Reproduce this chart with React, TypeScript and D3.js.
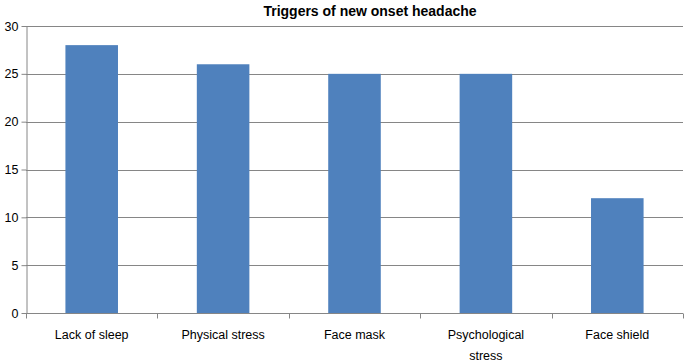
import React, { useEffect, useRef } from "react";
import * as d3 from "d3";

// Chart data
const categories = ["Lack of sleep", "Physical stress", "Face mask", "Psychological stress", "Face shield"];
const labelLines = [["Lack of sleep"], ["Physical stress"], ["Face mask"], ["Psychological", "stress"], ["Face shield"]];
const values = [28, 26, 25, 25, 12];
const yTicks = [0, 5, 10, 15, 20, 25, 30];
const title = "Triggers of new onset headache";

const width = 685;
const height = 363;
const marginTop = 26;
const marginRight = 2;
const marginBottom = 50;
const marginLeft = 26;
const font = "'Liberation Sans', Arial, sans-serif";

const App: React.FC = () => {
  const svgRef = useRef<SVGSVGElement>(null);

  useEffect(() => {
    if (!svgRef.current) return;
    const svg = d3.select(svgRef.current);
    svg.selectAll("*").remove();

    const x = d3
      .scaleBand()
      .domain(categories)
      .range([marginLeft, width - marginRight])
      .paddingInner(0.6)
      .paddingOuter(0.3);

    const y = d3
      .scaleLinear()
      .domain([0, 30])
      .range([height - marginBottom, marginTop]);

    // horizontal grid lines
    svg
      .append("g")
      .selectAll("line")
      .data(yTicks.filter((d) => d > 0))
      .join("line")
      .attr("x1", marginLeft)
      .attr("x2", width - marginRight)
      .attr("y1", (d) => Math.round(y(d)) + 0.5)
      .attr("y2", (d) => Math.round(y(d)) + 0.5)
      .attr("stroke", "#868686")
      .attr("stroke-width", 1);

    // bars
    svg
      .append("g")
      .selectAll("rect")
      .data(values)
      .join("rect")
      .attr("x", (d, i) => x(categories[i]) || 0)
      .attr("y", (d) => y(d))
      .attr("width", x.bandwidth())
      .attr("height", (d) => y(0) - y(d))
      .attr("fill", "#4F81BD");

    // y axis
    svg
      .append("g")
      .attr("transform", `translate(${marginLeft + 0.5},0)`)
      .call(d3.axisLeft(y).tickValues(yTicks).tickSize(5).tickPadding(3).tickSizeOuter(0))
      .call((g) => g.select(".domain").attr("stroke", "#868686"))
      .call((g) => g.selectAll(".tick line").attr("stroke", "#868686"))
      .call((g) =>
        g.selectAll(".tick text").attr("font-family", font).attr("font-size", 12.5).attr("fill", "#000")
      );

    // x axis line + category boundary ticks
    const xAxis = svg.append("g");
    const y0 = Math.round(y(0)) + 0.5;
    xAxis
      .append("line")
      .attr("x1", marginLeft)
      .attr("x2", width - marginRight)
      .attr("y1", y0)
      .attr("y2", y0)
      .attr("stroke", "#868686");
    const bounds = d3
      .range(categories.length + 1)
      .map((i) => marginLeft + (i * (width - marginRight - marginLeft)) / categories.length);
    xAxis
      .selectAll("line.tick")
      .data(bounds)
      .join("line")
      .attr("class", "tick")
      .attr("x1", (d) => Math.round(d) + 0.5)
      .attr("x2", (d) => Math.round(d) + 0.5)
      .attr("y1", y0)
      .attr("y2", y0 + 5)
      .attr("stroke", "#868686");

    // category labels
    const labels = xAxis
      .selectAll("text")
      .data(labelLines)
      .join("text")
      .attr("text-anchor", "middle")
      .attr("font-family", font)
      .attr("font-size", 12.5)
      .attr("fill", "#000")
      .attr("transform", (d, i) => `translate(${(x(categories[i]) || 0) + x.bandwidth() / 2},${y0 + 25})`);
    labels
      .selectAll("tspan")
      .data((d) => d)
      .join("tspan")
      .attr("x", 0)
      .attr("dy", (d, i) => (i === 0 ? 0 : 21))
      .text((d) => d);

    // title
    svg
      .append("text")
      .attr("x", 370)
      .attr("y", 16)
      .attr("text-anchor", "middle")
      .attr("font-family", font)
      .attr("font-size", 14)
      .attr("font-weight", "bold")
      .attr("fill", "#000")
      .text(title);
  }, []);

  return (
    <svg
      ref={svgRef}
      width={width}
      height={height}
      style={{ position: "absolute", left: 0, top: 0, background: "#fff" }}
    />
  );
};

export default App;
